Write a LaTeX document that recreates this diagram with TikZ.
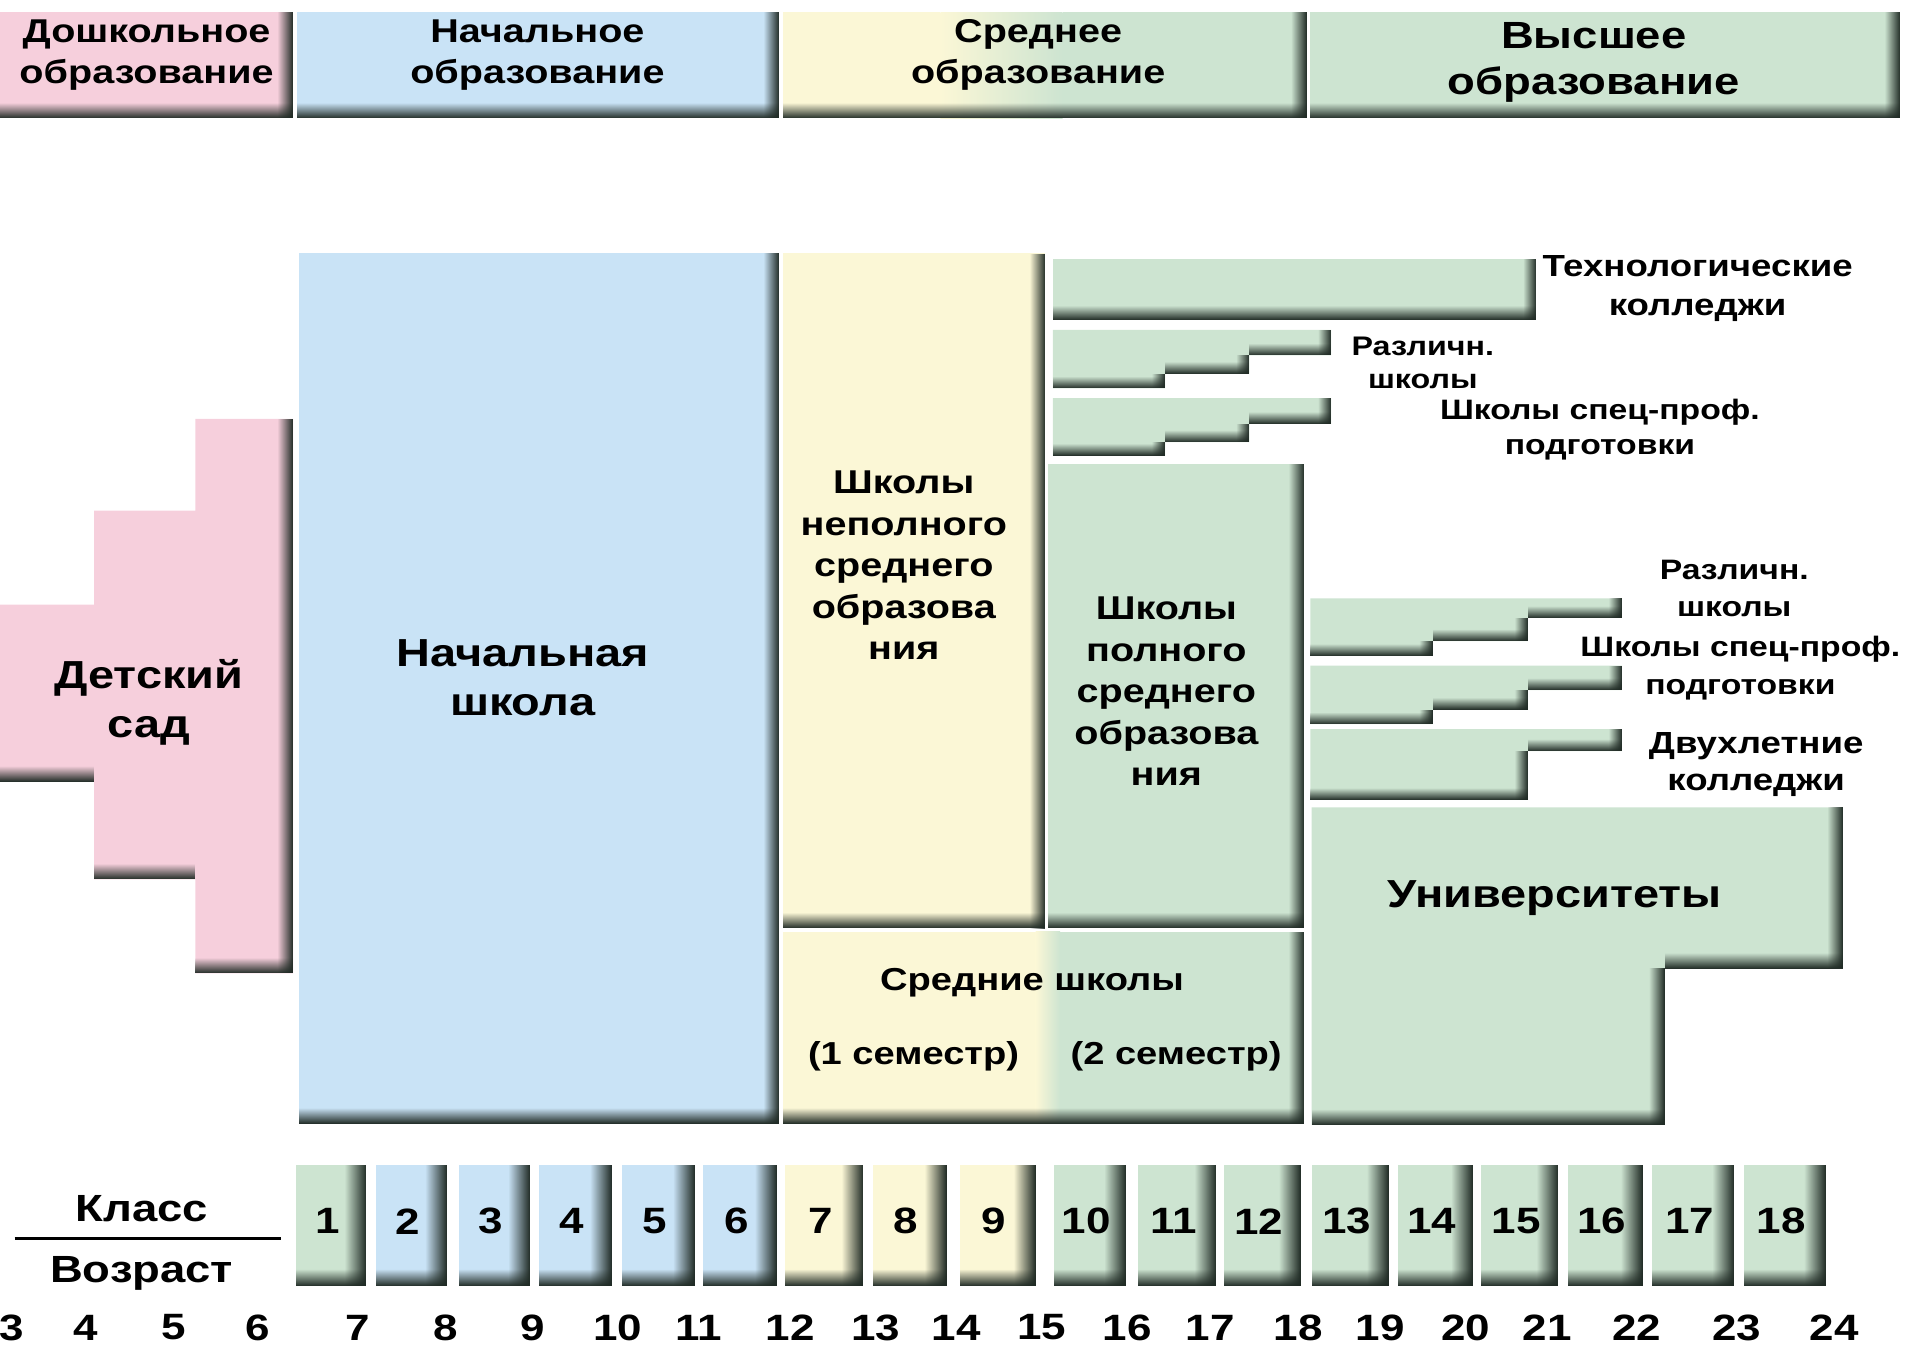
\documentclass[tikz,border=0pt]{standalone}
\usepackage{fontspec}
\setmainfont{Liberation Sans}[FakeStretch=1.2]
\usetikzlibrary{fadings}

\definecolor{preK}{HTML}{F6CFDC}
\definecolor{primB}{HTML}{C9E3F6}
\definecolor{secY}{HTML}{FBF7D6}
\definecolor{highG}{HTML}{CDE4D1}
\definecolor{edgeD}{HTML}{1F2A24}

\tikzfading[name=fadeR, left color=transparent!100, middle color=transparent!65, right color=transparent!0]
\tikzfading[name=fadeB, top color=transparent!100, middle color=transparent!65, bottom color=transparent!0]

% dark bevel on the right / bottom side of a block
\newcommand\edgeR[4][13]{\fill[edgeD, path fading=fadeR] ({#2-#1},#3) rectangle (#2,#4);}
\newcommand\edgeB[4][13]{\fill[edgeD, path fading=fadeB] (#2,{#4-#1}) rectangle (#3,#4);}

% green bar with three steps
\newcommand\stepbar[8]{%
    \fill[highG] (#1,#5) -- (#4,#5) -- (#4,#6) -- (#3,#6) -- (#3,#7) -- (#2,#7) -- (#2,#8) -- (#1,#8) -- cycle;
    \edgeR[11]{#4}{#5}{#6} \edgeR[11]{#3}{#6}{#7} \edgeR[11]{#2}{#7}{#8}
    \edgeB[10]{#3}{#4}{#6} \edgeB[10]{#2}{#3}{#7} \edgeB[10]{#1}{#2}{#8}}

\begin{document}
\begin{tikzpicture}[x=1pt, y=-1pt,
        lbl/.style={font=\bfseries\fontsize{27}{34}\selectfont, align=center, inner sep=0pt},
        big/.style={lbl, font=\bfseries\fontsize{32}{40}\selectfont},
        small/.style={lbl, font=\bfseries\fontsize{23}{29}\selectfont},
        num/.style={lbl, font=\bfseries\fontsize{30}{36}\selectfont}]

    \useasboundingbox (0,0) rectangle (1568,1105);

    % header
    \fill[preK] (0,10) rectangle (240,97);
    \edgeR{240}{10}{97} \edgeB{0}{240}{97}
    \fill[primB] (243,10) rectangle (638,97);
    \edgeR{638}{10}{97} \edgeB{243}{638}{97}
    \fill[secY] (641,10) rectangle (770,97);
    \shade[left color=secY, right color=highG] (770,10) rectangle (870,97);
    \fill[highG] (870,10) rectangle (1070,97);
    \edgeR{1070}{10}{97} \edgeB{641}{1070}{97}
    \fill[highG] (1073,10) rectangle (1556,97);
    \edgeR{1556}{10}{97} \edgeB{1073}{1556}{97}

    \node[lbl] (hdPre) at (120,45) {Дошкольное\\образование};
    \node[lbl] (hdPrim) at (440,45) {Начальное\\образование};
    \node[lbl] (hdSec) at (850,45) {Среднее\\образование};
    \node[lbl, font=\bfseries\fontsize{31}{38}\selectfont] (hdHigh) at (1305,51) {Высшее\\образование};

    % kindergarten
    \fill[preK] (0,495) -- (77,495) -- (77,418) -- (160,418) -- (160,343) -- (240,343)
        -- (240,797) -- (160,797) -- (160,720) -- (77,720) -- (77,640) -- (0,640) -- cycle;
    \edgeR{240}{343}{797}
    \edgeB{0}{77}{640} \edgeB{77}{160}{720} \edgeB{160}{240}{797}
    \node[big] (kg) at (122,575) {Детский\\сад};

    % primary school
    \fill[primB] (245,207) rectangle (638,920);
    \edgeR{638}{207}{920} \edgeB{245}{638}{920}
    \node[big] (prim) at (428,555) {Начальная\\школа};

    % lower and upper secondary
    \fill[secY] (641,207) rectangle (856,760);
    \edgeR{856}{207}{760} \edgeB{641}{856}{760}
    \node[lbl] (lowSec) at (740,463) {Школы\\неполного\\среднего\\образова\\ния};

    \fill[highG] (858,380) rectangle (1068,760);
    \edgeR{1068}{380}{760} \edgeB{858}{1068}{760}
    \node[lbl] (upSec) at (955,566) {Школы\\полного\\среднего\\образова\\ния};

    \fill[secY] (641,763) rectangle (848,920);
    \shade[left color=secY, right color=highG] (848,763) rectangle (868,920);
    \fill[highG] (868,763) rectangle (1068,920);
    \edgeR{1068}{763}{920} \edgeB{641}{1068}{920}
    \node[lbl, font=\bfseries\fontsize{26}{32}\selectfont] (midSch) at (845,805) {Средние школы};
    \node[lbl, font=\bfseries\fontsize{26}{32}\selectfont] (sem1) at (748,865) {(1 семестр)};
    \node[lbl, font=\bfseries\fontsize{26}{32}\selectfont] (sem2) at (963,865) {(2 семестр)};

    % bars after lower secondary
    \fill[highG] (862,212) rectangle (1258,262);
    \edgeR[11]{1258}{212}{262} \edgeB[12]{862}{1258}{262}
    \node[lbl, font=\bfseries\fontsize{25}{32}\selectfont] (tech) at (1390,236) {Технологические\\колледжи};

    \stepbar{862}{954}{1023}{1090}{270}{291}{306}{318}
    \node[small, font=\bfseries\fontsize{22}{27}\selectfont] (var1) at (1165,297) {Различн.\\школы};
    \stepbar{862}{954}{1023}{1090}{326}{347}{362}{373}
    \node[small] (spec1) at (1310,352) {Школы спец-проф.\\подготовки};

    % bars after upper secondary
    \stepbar{1073}{1173}{1251}{1328}{490}{506}{525}{537}
    \node[small, font=\bfseries\fontsize{23}{30}\selectfont] (var2) at (1420,482) {Различн.\\школы};
    \stepbar{1073}{1173}{1251}{1328}{545}{565}{581}{593}
    \node[small, font=\bfseries\fontsize{23}{31}\selectfont] (spec2) at (1425,547) {Школы спец-проф.\\подготовки};

    \fill[highG] (1073,597) -- (1328,597) -- (1328,615) -- (1251,615) -- (1251,655) -- (1073,655) -- cycle;
    \edgeR[11]{1328}{597}{615} \edgeR[11]{1251}{615}{655}
    \edgeB[10]{1251}{1328}{615} \edgeB[10]{1073}{1251}{655}
    \node[lbl, font=\bfseries\fontsize{25}{31}\selectfont] (twoYr) at (1438,626) {Двухлетние\\колледжи};

    % universities
    \fill[highG] (1074,661) -- (1509,661) -- (1509,793) -- (1363,793) -- (1363,921) -- (1074,921) -- cycle;
    \edgeR{1509}{661}{793} \edgeR{1363}{793}{921}
    \edgeB{1363}{1509}{793} \edgeB{1074}{1363}{921}
    \node[big] (uni) at (1273,735) {Университеты};

    % grades and ages
    \node[num, font=\bfseries\fontsize{31}{36}\selectfont] (grade) at (116,990) {Класс};
    \node[num, font=\bfseries\fontsize{31}{36}\selectfont] (age) at (116,1043) {Возраст};
    \coordinate (fracL) at (12,1014);
    \coordinate (fracR) at (230,1014);
    \draw[line width=3pt] (fracL) -- (fracR);

    \foreach \n/\xa/\xb/\c in {1/242/300/highG, 2/308/366/primB, 3/376/434/primB, 4/441/501/primB,
            5/509/569/primB, 6/576/636/primB, 7/643/707/secY, 8/715/775/secY, 9/786/848/secY,
            10/863/922/highG, 11/932/996/highG, 12/1002/1065/highG, 13/1074/1137/highG,
            14/1145/1206/highG, 15/1213/1276/highG, 16/1284/1345/highG, 17/1353/1420/highG,
            18/1428/1495/highG} {
        \fill[\c] (\xa,954) rectangle (\xb,1053);
        \edgeR[18]{\xb}{954}{1053} \edgeB[14]{\xa}{\xb}{1053}
        \node[num] (g\n) at ({(\xa+\xb)/2-3},1000) {\n};
    }

    \foreach \a/\x in {3/10, 4/70, 5/142, 6/211, 7/293, 8/365, 9/436, 10/506, 11/572, 12/647,
            13/717, 14/783, 15/853, 16/923, 17/991, 18/1063, 19/1130, 20/1200, 21/1267,
            22/1340, 23/1422, 24/1502}
        \node[num] (age\a) at (\x,1087) {\a};

\end{tikzpicture}
\end{document}
